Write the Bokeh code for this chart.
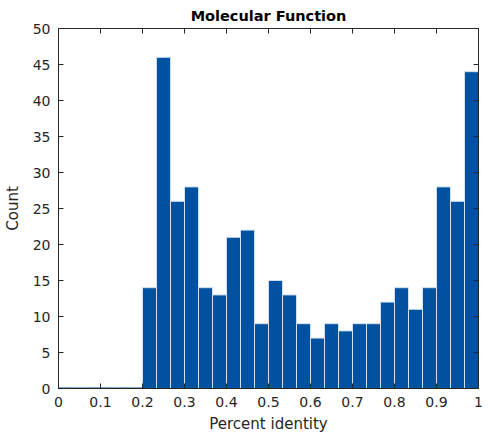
from bokeh.plotting import figure
from bokeh.models import FixedTicker, LinearAxis, Range1d
from bokeh.embed import file_html
from bokeh.resources import INLINE

bin_width = 1.0 / 30
counts = [0, 0, 0, 0, 0, 0,
          14, 46, 26, 28, 14, 13, 21, 22, 9, 15, 13, 9, 7, 9, 8, 9, 9, 12, 14, 11, 14, 28, 26, 44]
x_ticks = [0, 0.1, 0.2, 0.3, 0.4, 0.5, 0.6, 0.7, 0.8, 0.9, 1.0]
x_tick_labels = ["0", "0.1", "0.2", "0.3", "0.4", "0.5", "0.6", "0.7", "0.8", "0.9", "1"]
y_ticks = [0, 5, 10, 15, 20, 25, 30, 35, 40, 45, 50]

lefts = [i * bin_width for i in range(len(counts))]
rights = [(i + 1) * bin_width for i in range(len(counts))]

TEXT = "#262626"
FILL = "#0052a0"
FONT = "DejaVu Sans"

p = figure(frame_width=420, frame_height=360, output_backend="svg", toolbar_location=None,
           x_range=Range1d(0, 1), y_range=Range1d(0, 50),
           min_border_left=49, min_border_right=6, min_border_top=21, min_border_bottom=40)

p.title.text = "Molecular Function"
p.title.align = "center"
p.title.text_font = FONT
p.title.text_font_size = "14.5px"
p.title.text_font_style = "bold"
p.title.text_color = "#000000"
p.title.offset = 0

nz = [i for i, c in enumerate(counts) if c > 0]
z = [i for i, c in enumerate(counts) if c == 0]
p.quad(left=[lefts[i] for i in nz], right=[rights[i] for i in nz],
       bottom=0, top=[counts[i] for i in nz],
       fill_color=FILL, line_color="#d0e0f0", line_width=1)
p.quad(left=[lefts[i] for i in z], right=[rights[i] for i in z],
       bottom=0, top=[counts[i] for i in z],
       fill_color=FILL, line_color=FILL, line_width=2)

p.xgrid.visible = False
p.ygrid.visible = False
p.outline_line_color = TEXT
p.outline_line_width = 1

for ax in [p.xaxis[0], p.yaxis[0]]:
    ax.major_tick_in = 5
    ax.major_tick_out = 0
    ax.minor_tick_in = 0
    ax.minor_tick_out = 0
    ax.axis_line_color = TEXT
    ax.major_tick_line_color = TEXT
    ax.major_label_text_font = FONT
    ax.major_label_text_font_size = "14px"
    ax.major_label_text_color = TEXT
    ax.axis_label_text_font = FONT
    ax.axis_label_text_font_size = "15px"
    ax.axis_label_text_font_style = "normal"
    ax.axis_label_text_color = TEXT

p.xaxis[0].ticker = FixedTicker(ticks=x_ticks)
p.xaxis[0].major_label_overrides = {t: l for t, l in zip(x_ticks, x_tick_labels)}
p.xaxis[0].major_label_standoff = 8
p.yaxis[0].ticker = FixedTicker(ticks=y_ticks)
p.yaxis[0].major_label_standoff = 8
p.xaxis[0].axis_label = "Percent identity"
p.yaxis[0].axis_label = "Count"
p.xaxis[0].axis_label_standoff = 5
p.yaxis[0].axis_label_standoff = 8

top_ax = LinearAxis(ticker=FixedTicker(ticks=x_ticks),
                    major_label_overrides={t: "" for t in x_ticks},
                    major_tick_in=5, major_tick_out=0, minor_tick_in=0, minor_tick_out=0,
                    axis_line_color=TEXT, major_tick_line_color=TEXT)
right_ax = LinearAxis(ticker=FixedTicker(ticks=y_ticks),
                      major_label_overrides={t: "" for t in y_ticks},
                      major_tick_in=5, major_tick_out=0, minor_tick_in=0, minor_tick_out=0,
                      axis_line_color=TEXT, major_tick_line_color=TEXT)
p.add_layout(top_ax, "above")
p.add_layout(right_ax, "right")

open("out.html", "w").write(file_html(p, INLINE))
